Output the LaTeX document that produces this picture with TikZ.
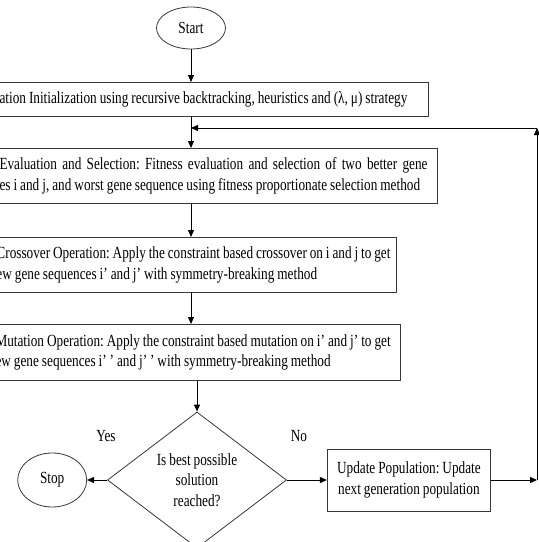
\documentclass[tikz,border=0pt]{standalone}
\usepackage{fontspec}
\setmainfont{Liberation Serif}[FakeStretch=0.78, WordSpace=0.9]
\usetikzlibrary{arrows.meta}
\usetikzlibrary{shapes.geometric}
\usetikzlibrary{positioning}
\definecolor{edgegray}{RGB}{55,55,55}
\newcommand{\flowfont}{\fontsize{17}{20.5}\selectfont\frenchspacing}
\newcommand{\plainsp}{\spaceskip=0pt\xspaceskip=0pt\relax}

\begin{document}
\begin{tikzpicture}[x=1pt, y=-1pt,
    every node/.style={font=\flowfont},
    procbox/.style={draw=edgegray, line width=1pt, rectangle, inner xsep=6pt, inner ysep=0pt, align=left, anchor=north east},
    term/.style={draw=edgegray, line width=0.8pt, ellipse, inner sep=0pt, minimum width=69pt},
    decision/.style={draw=edgegray, line width=0.8pt, diamond, inner sep=0pt, align=center, minimum width=179pt, minimum height=136pt},
    flow/.style={draw=black, line width=0.9pt, -{Triangle[length=7pt,width=6pt]}}]
    \useasboundingbox (0,0) rectangle (539,542);
    \clip (0,0) rectangle (539,542);
    % flow steps
    \node[term, minimum height=42pt]                          (start) at (191, 28) {Start};
    \node[procbox, text width=423pt, minimum height=34pt]     (init)  at (429, 82)
        {\plainsp ation Initialization using recursive backtracking, heuristics and (λ, μ) strategy};
    \node[procbox, text width=432pt, minimum height=55pt]     (eval)  at (438,148)
        {\plainsp\makebox[428pt][s]{Evaluation and Selection: Fitness evaluation and selection of two better gene}\\
         es i and j, and worst gene sequence using fitness proportionate selection method};
    \node[procbox, text width=394pt, minimum height=55pt]     (cross) at (397,237)
        {\plainsp Crossover Operation: Apply the constraint based crossover on i and j to get\\
         ew gene sequences i’ and j’ with symmetry-breaking method};
    \node[procbox, text width=399pt, minimum height=56pt]     (mut)   at (401,324)
        {\plainsp Mutation Operation: Apply the constraint based mutation on i’ and j’ to get\\
         ew gene sequences i’\,’ and j’\,’ with symmetry-breaking method};
    \node[decision]                                           (dec)   at (197,480)
        {Is best possible\\solution\\reached?};
    \node[term, minimum height=54pt, left=20pt of dec]        (stop)  {Stop};
    \node[procbox, align=center, minimum width=163pt, minimum height=62pt, anchor=west, right=40pt of dec] (upd)
        {Update Population: Update\\next generation population};
    \node (yes) at (106,436) {Yes};
    \node (no)  at (299,436) {No};
    \coordinate (loopbot) at (537,480);
    \coordinate (looptop) at (537,128);
    % connectors
    \draw[flow] (start) -- (start |- init.north);
    \draw[flow] (start |- init.south)  -- (start |- eval.north);
    \draw[flow] (start |- eval.south)  -- (start |- cross.north);
    \draw[flow] (start |- cross.south) -- (start |- mut.north);
    \draw[flow] (dec.north |- mut.south) -- (dec.north);
    \draw[flow] (dec.west) -- (stop.east);
    \draw[flow] (dec.east) -- (upd.west);
    \draw[flow] (upd.east) -- (loopbot);
    \draw[flow] (loopbot) -- (looptop);
    \draw[flow] (looptop) -- (start |- looptop);
\end{tikzpicture}
\end{document}
